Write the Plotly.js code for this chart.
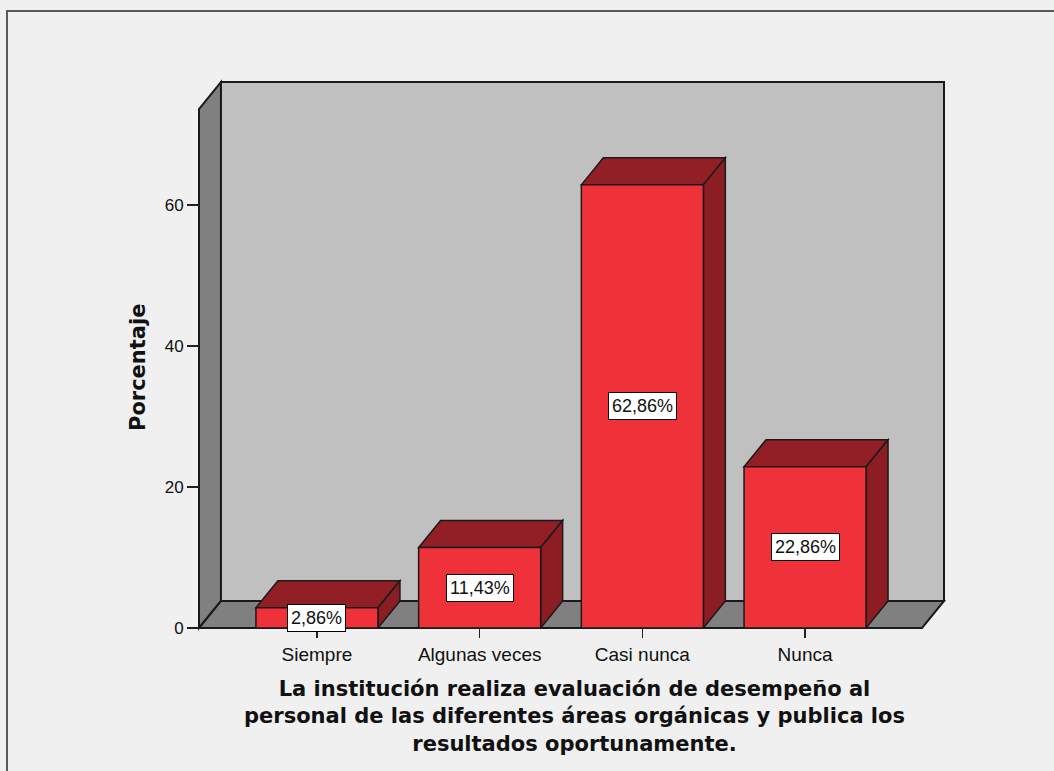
<!DOCTYPE html>
<html>
<head>
<meta charset="utf-8">
<script src="https://cdn.plot.ly/plotly-3.0.1.min.js"></script>
<style>html,body{margin:0;padding:0;background:#F0F0F0;}#chart{width:1054px;height:771px;}</style>
</head>
<body>
<div id="chart"></div>
<script>
// ---- data ----
const categories = ['Siempre', 'Algunas veces', 'Casi nunca', 'Nunca'];
const percentages = [2.86, 11.43, 62.86, 22.86];
const yTickValues = [0, 20, 40, 60];
const xTitle = 'La institución realiza evaluación de desempeño al<br>personal de las diferentes áreas orgánicas y publica los<br>resultados oportunamente.';
const yTitle = 'Porcentaje';

// ---- geometry / style ----
const X_MIN = -0.725, X_MAX = 3.854, Y_MAX = 77.45;
const DX = 0.135, DY = 3.83, BAR_W = 0.75;
const FONT = '"Liberation Sans", Arial, sans-serif';
const TITLE_FONT = '"DejaVu Sans", Verdana, sans-serif';
const EDGE = '#1a1a1a';

const xPos = categories.map((_, i) => i);
const fmt = v => v.toFixed(2).replace('.', ',') + '%';

const fx = x => (x - X_MIN) / (X_MAX - X_MIN);
const fy = y => y / Y_MAX;
const ppath = pts => 'M ' + pts.map(p => fx(p[0]) + ',' + fy(p[1])).join(' L ') + ' Z';
const dpath = pts => 'M ' + pts.map(p => p[0] + ',' + p[1]).join(' L ') + ' Z';

const shapes = [];
// left wall
shapes.push({type: 'path', xref: 'paper', yref: 'paper', layer: 'below',
  path: ppath([[X_MIN, 0], [X_MIN, Y_MAX - DY], [X_MIN + DX, Y_MAX], [X_MIN + DX, DY]]),
  fillcolor: '#808080', line: {color: EDGE, width: 2}});
// back wall
shapes.push({type: 'path', xref: 'paper', yref: 'paper', layer: 'below',
  path: ppath([[X_MIN + DX, DY], [X_MIN + DX, Y_MAX], [X_MAX, Y_MAX], [X_MAX, DY]]),
  fillcolor: '#C0C0C0', line: {color: EDGE, width: 2}});
// floor
shapes.push({type: 'path', xref: 'paper', yref: 'paper', layer: 'below',
  path: ppath([[X_MIN, 0], [X_MAX - DX, 0], [X_MAX, DY], [X_MIN + DX, DY]]),
  fillcolor: '#808080', line: {color: EDGE, width: 2}});

// bar top and side faces (from the data)
percentages.forEach((v, i) => {
  const x0 = xPos[i] - BAR_W / 2, x1 = xPos[i] + BAR_W / 2;
  shapes.push({type: 'path', xref: 'x', yref: 'y', layer: 'below',
    path: dpath([[x0, v], [x0 + DX, v + DY], [x1 + DX, v + DY], [x1, v]]),
    fillcolor: '#921F25', line: {color: EDGE, width: 1.5}});
  shapes.push({type: 'path', xref: 'x', yref: 'y', layer: 'below',
    path: dpath([[x1, 0], [x1 + DX, DY], [x1 + DX, v + DY], [x1, v]]),
    fillcolor: '#8C1D22', line: {color: EDGE, width: 1.5}});
});

// outer frame
shapes.push({type: 'rect', xref: 'paper', yref: 'paper', layer: 'above',
  x0: (7 - 199) / 745, x1: 1.25, y0: -0.4, y1: (628 - 11) / 546,
  fillcolor: 'rgba(0,0,0,0)', line: {color: '#5a5a5a', width: 2}});

const annotations = percentages.map((v, i) => ({
  x: xPos[i], y: v / 2, xref: 'x', yref: 'y', text: fmt(v), showarrow: false,
  bgcolor: '#FFFFFF', bordercolor: '#000000', borderwidth: 1, borderpad: 3,
  font: {family: FONT, size: 18, color: '#111'}
}));
annotations.push({xref: 'paper', yref: 'paper', x: (574 - 199) / 745, y: (628 - 716) / 546,
  text: '<b>' + xTitle + '</b>', showarrow: false, xanchor: 'center', yanchor: 'middle',
  font: {family: TITLE_FONT, size: 21, color: '#111'}});
annotations.push({xref: 'paper', yref: 'paper', x: (138 - 199) / 745, y: (628 - 368) / 546,
  text: '<b>' + yTitle + '</b>', showarrow: false, textangle: -90, xanchor: 'center', yanchor: 'middle',
  font: {family: TITLE_FONT, size: 21, color: '#111'}});

const trace = {
  type: 'bar', x: xPos, y: percentages, width: BAR_W, cliponaxis: false,
  marker: {color: '#EF323A', line: {color: EDGE, width: 1.5}},
  hoverinfo: 'skip'
};

const layout = {
  width: 1054, height: 771,
  margin: {l: 199, r: 1054 - 944, t: 82, b: 771 - 628, pad: 0},
  paper_bgcolor: '#F0F0F0', plot_bgcolor: 'rgba(0,0,0,0)',
  showlegend: false,
  font: {family: FONT, color: '#111'},
  xaxis: {range: [X_MIN, X_MAX], tickvals: xPos, ticktext: categories,
    showgrid: false, zeroline: false, showline: false,
    ticks: 'outside', ticklen: 9, tickwidth: 1.5, tickcolor: '#222',
    tickfont: {family: FONT, size: 19, color: '#111'}, fixedrange: true},
  yaxis: {range: [0, Y_MAX], tickvals: yTickValues,
    showgrid: false, zeroline: false, showline: false,
    ticks: 'outside', ticklen: 11, tickwidth: 1.5, tickcolor: '#222',
    tickfont: {family: FONT, size: 17, color: '#111'}, fixedrange: true},
  shapes: shapes, annotations: annotations
};

Plotly.newPlot('chart', [trace], layout, {displayModeBar: false, staticPlot: true});
</script>
</body>
</html>
